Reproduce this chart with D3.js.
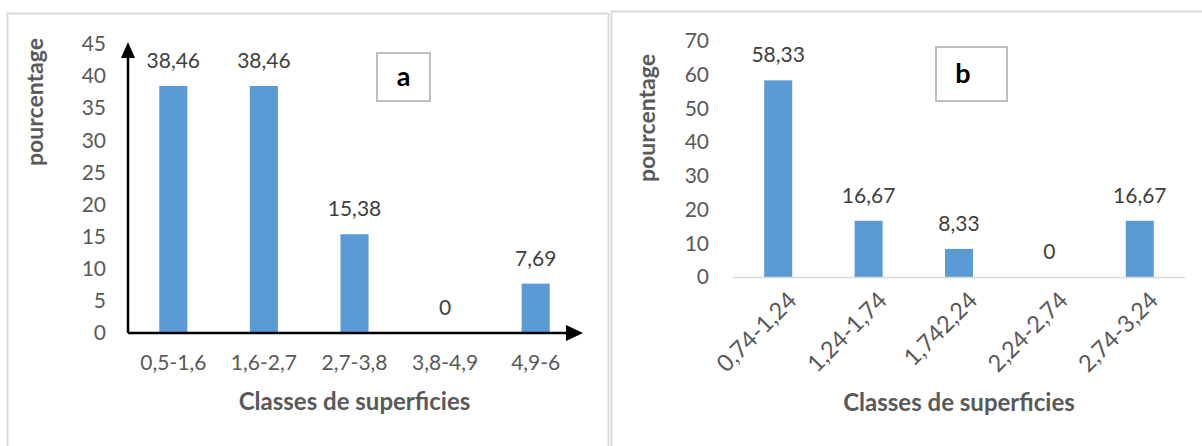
<!DOCTYPE html>
<html>
<head>
<meta charset="utf-8">
<script src="https://cdn.jsdelivr.net/npm/d3@7"></script>
<style>
  body { margin: 0; background: #fff; }
  text { font-family: Lato, "Open Sans", sans-serif; }
</style>
</head>
<body>
<div id="chart"></div>
<script>
// data for panel a
const classesA = ["0,5-1,6", "1,6-2,7", "2,7-3,8", "3,8-4,9", "4,9-6"];
const valuesA = [38.46, 38.46, 15.38, 0, 7.69];
const labelsA = ["38,46", "38,46", "15,38", "0", "7,69"];
const ticksA = [0, 5, 10, 15, 20, 25, 30, 35, 40, 45];

// data for panel b
const classesB = ["0,74-1,24", "1,24-1,74", "1,742,24", "2,24-2,74", "2,74-3,24"];
const valuesB = [58.33, 16.67, 8.33, 0, 16.67];
const labelsB = ["58,33", "16,67", "8,33", "0", "16,67"];
const ticksB = [0, 10, 20, 30, 40, 50, 60, 70];

const blue = "#5b9bd5";
const grey = "#595959";

const svg = d3.select("#chart")
  .append("svg")
  .attr("width", 1202)
  .attr("height", 446);

// outer frames
svg.append("rect").attr("x", 7.5).attr("y", 13.5).attr("width", 601).attr("height", 450)
  .attr("fill", "none").attr("stroke", "#d9d9d9").attr("stroke-width", 2);
svg.append("rect").attr("x", 611.5).attr("y", 11.5).attr("width", 620).attr("height", 450)
  .attr("fill", "none").attr("stroke", "#d9d9d9").attr("stroke-width", 2);

function drawPanel(p) {
  const x = d3.scaleBand()
    .domain(p.classes)
    .range([p.left, p.right])
    .paddingInner(0.69)
    .paddingOuter(0.345);

  const y = d3.scaleLinear()
    .domain([0, p.max])
    .range([p.bottom, p.top]);

  const g = svg.append("g");

  // y ticks (no axis line)
  const yAxis = g.append("g")
    .attr("transform", `translate(${p.tickX},0)`)
    .call(d3.axisLeft(y).tickValues(p.ticks).tickSize(0).tickPadding(0));
  yAxis.select(".domain").remove();
  yAxis.selectAll("text")
    .attr("font-family", "Lato, sans-serif")
    .attr("font-size", 21)
    .attr("fill", grey);

  // bars
  g.selectAll("rect.bar")
    .data(p.values)
    .join("rect")
    .attr("class", "bar")
    .attr("x", (d, i) => x(p.classes[i]))
    .attr("width", x.bandwidth())
    .attr("y", d => y(d))
    .attr("height", d => y(0) - y(d))
    .attr("fill", blue);

  // data labels
  g.selectAll("text.lab")
    .data(p.values)
    .join("text")
    .attr("class", "lab")
    .attr("x", (d, i) => x(p.classes[i]) + x.bandwidth() / 2)
    .attr("y", d => y(d) - 18)
    .attr("text-anchor", "middle")
    .attr("font-size", 21)
    .attr("fill", "#404040")
    .text((d, i) => p.labels[i]);

  // x axis
  const xAxis = g.append("g")
    .attr("transform", `translate(0,${p.bottom})`)
    .call(d3.axisBottom(x).tickSize(0).tickPadding(p.rotate ? 10 : 22));
  xAxis.select(".domain").remove();
  xAxis.selectAll("text")
    .attr("font-family", "Lato, sans-serif")
    .attr("font-size", p.rotate ? 23.5 : 21)
    .attr("fill", grey);
  if (p.rotate) {
    xAxis.selectAll("text")
      .attr("text-anchor", "end")
      .attr("dy", "0.35em")
      .attr("transform", "translate(7,12) rotate(-45)");
  }

  if (p.arrows) {
    // black axes with arrow heads
    g.append("line")
      .attr("x1", p.left).attr("x2", p.right - 8)
      .attr("y1", p.bottom).attr("y2", p.bottom)
      .attr("stroke", "#000").attr("stroke-width", 2.5);
    g.append("line")
      .attr("x1", p.left).attr("x2", p.left)
      .attr("y1", p.bottom).attr("y2", p.top + 10)
      .attr("stroke", "#000").attr("stroke-width", 2.5);
    g.append("path")
      .attr("d", `M${p.right + 2},${p.bottom} L${p.right - 15},${p.bottom - 8} L${p.right - 15},${p.bottom + 8} Z`)
      .attr("fill", "#000");
    g.append("path")
      .attr("d", `M${p.left},${p.top - 2} L${p.left - 7},${p.top + 14} L${p.left + 7},${p.top + 14} Z`)
      .attr("fill", "#000");
  } else {
    g.append("line")
      .attr("x1", p.left).attr("x2", p.right)
      .attr("y1", p.bottom + 0.5).attr("y2", p.bottom + 0.5)
      .attr("stroke", "#d9d9d9").attr("stroke-width", 1.5);
  }

  // axis titles
  g.append("text")
    .attr("x", (p.left + p.right) / 2)
    .attr("y", p.titleY)
    .attr("text-anchor", "middle")
    .attr("dominant-baseline", "middle")
    .attr("font-size", 24)
    .attr("font-weight", "bold")
    .attr("fill", grey)
    .text("Classes de superficies");

  g.append("text")
    .attr("transform", `translate(${p.yTitleX},${p.yTitleY}) rotate(-90)`)
    .attr("text-anchor", "middle")
    .attr("dominant-baseline", "middle")
    .attr("font-size", 23)
    .attr("font-weight", "bold")
    .attr("fill", grey)
    .text("pourcentage");

  // panel letter box
  g.append("rect")
    .attr("x", p.box[0]).attr("y", p.box[1])
    .attr("width", p.box[2]).attr("height", p.box[3])
    .attr("fill", "#fff").attr("stroke", "#bfbfbf").attr("stroke-width", 2);
  g.append("text")
    .attr("x", p.letterX)
    .attr("y", p.box[1] + p.box[3] / 2 + 2)
    .attr("text-anchor", "middle")
    .attr("dominant-baseline", "middle")
    .attr("font-size", 27)
    .attr("font-weight", "bold")
    .attr("fill", "#000")
    .text(p.letter);
}

drawPanel({
  classes: classesA, values: valuesA, labels: labelsA, ticks: ticksA, max: 45,
  left: 128, right: 581, top: 44, bottom: 333, tickX: 106,
  arrows: true, rotate: false, titleY: 404, yTitleX: 37, yTitleY: 102,
  box: [377, 53, 53, 48], letter: "a", letterX: 403.5
});

drawPanel({
  classes: classesB, values: valuesB, labels: labelsB, ticks: ticksB, max: 70,
  left: 733, right: 1185, top: 41, bottom: 277, tickX: 709,
  arrows: false, rotate: true, titleY: 405, yTitleX: 649, yTitleY: 118,
  box: [936, 47, 71, 54], letter: "b", letterX: 963
});
</script>
</body>
</html>
